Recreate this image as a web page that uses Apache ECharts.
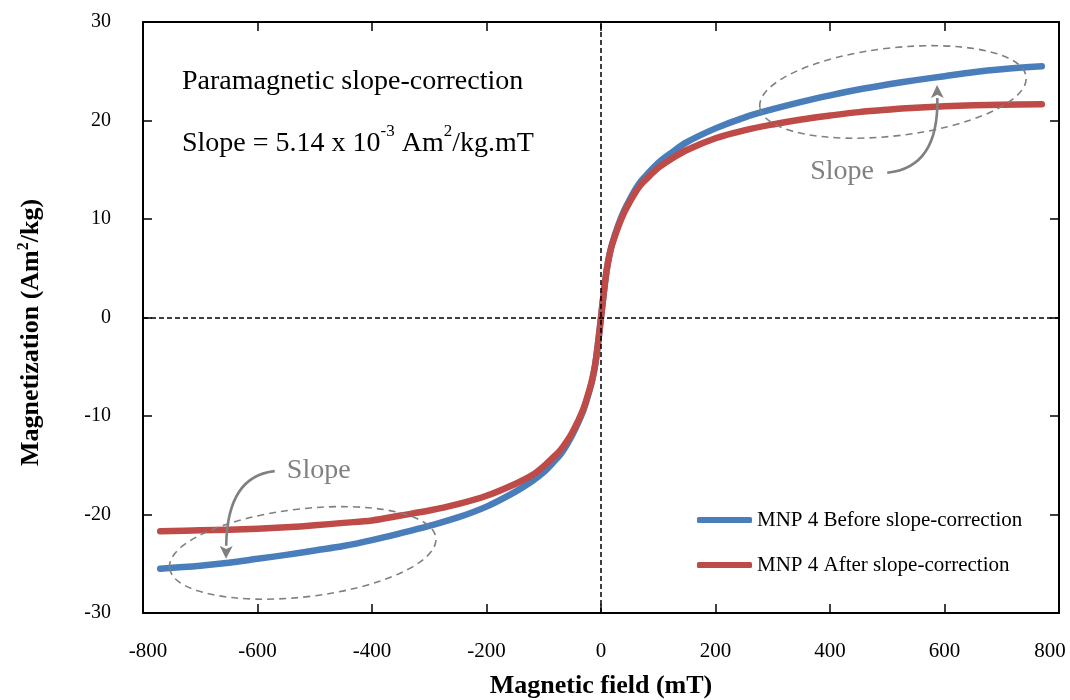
<!DOCTYPE html>
<html>
<head>
<meta charset="utf-8">
<script src="https://cdn.jsdelivr.net/npm/echarts@6/dist/echarts.min.js"></script>
<style>
  html, body { margin: 0; padding: 0; background: #fff; }
  #chart { width: 1070px; height: 700px; }
</style>
</head>
<body>
<div id="chart"></div>
<script>
// Applied magnetic field (mT)
const fieldValues = [-770, -700, -650, -600, -550, -500, -450, -400, -350, -300, -250, -200, -150, -120, -100, -80, -70, -60, -50, -40, -30, -20, -15, -10, -5, 0,
  5, 10, 15, 20, 30, 40, 50, 60, 70, 80, 100, 120, 150, 200, 250, 300, 350, 400, 450, 500, 550, 600, 650, 700, 770];

// Magnetization before paramagnetic slope correction (Am2/kg)
const beforeCorrection = [-25.5, -25.2, -24.9, -24.5, -24.1, -23.65, -23.2, -22.6, -21.9, -21.15, -20.3, -19.2, -17.7, -16.6, -15.7, -14.5, -13.85, -12.95, -11.9, -10.7, -9.3, -7.4, -6.3, -4.75, -2.55, 0,
  2.6, 4.85, 6.45, 7.6, 9.35, 10.8, 11.95, 13.0, 13.85, 14.5, 15.7, 16.6, 17.8, 19.2, 20.3, 21.15, 21.9, 22.55, 23.15, 23.65, 24.1, 24.5, 24.9, 25.2, 25.5];

// Magnetization after paramagnetic slope correction (Am2/kg)
const afterCorrection = [-21.7, -21.6, -21.55, -21.45, -21.3, -21.1, -20.85, -20.6, -20.1, -19.6, -18.95, -18.1, -16.9, -16.0, -15.1, -14.0, -13.4, -12.6, -11.65, -10.5, -9.15, -7.3, -6.2, -4.7, -2.5, 0,
  2.55, 4.8, 6.4, 7.5, 9.2, 10.6, 11.7, 12.7, 13.5, 14.1, 15.2, 16.0, 17.0, 18.2, 19.0, 19.6, 20.1, 20.5, 20.85, 21.1, 21.3, 21.45, 21.55, 21.6, 21.65];

const seriesNames = ['MNP 4 Before slope-correction', 'MNP 4 After slope-correction'];
const xTicks = { min: -800, max: 800, interval: 200 };
const yTicks = { min: -30, max: 30, interval: 10 };

const FONT = '"Liberation Serif", "Times New Roman", serif';
const GRAY = '#808080';

const chart = echarts.init(document.getElementById('chart'), null, { renderer: 'canvas' });

function pairs(xs, ys) {
  return xs.map((x, i) => [x, ys[i]]);
}

// end labels of the field axis sit slightly inside the frame
function fieldLabel(v) {
  if (v === xTicks.max) return '{hi|' + v + '}';
  if (v === xTicks.min) return '{lo|' + v + '}';
  return String(v);
}

const tickStyle = { show: true, inside: true, length: 9, lineStyle: { color: '#000', width: 1.5 } };
const axisLine = { show: true, onZero: false, lineStyle: { color: '#000', width: 2 } };

chart.setOption({
  animation: false,
  backgroundColor: '#fff',
  grid: { left: 143, right: 11, top: 22, bottom: 87, containLabel: false, outerBoundsMode: 'none' },
  xAxis: [
    {
      type: 'value', position: 'bottom', min: xTicks.min, max: xTicks.max, interval: xTicks.interval,
      axisLine, axisTick: tickStyle, splitLine: { show: false },
      axisLabel: {
        color: '#000', fontFamily: FONT, fontSize: 21, margin: 28, formatter: fieldLabel,
        rich: {
          hi: { color: '#000', fontFamily: FONT, fontSize: 21, padding: [0, 18, 0, 0] },
          lo: { color: '#000', fontFamily: FONT, fontSize: 21, padding: [0, 0, 0, 10] }
        }
      },
      name: 'Magnetic field (mT)', nameLocation: 'middle', nameGap: 60,
      nameTextStyle: { color: '#000', fontFamily: FONT, fontSize: 26, fontWeight: 'bold' }
    },
    {
      type: 'value', position: 'top', min: xTicks.min, max: xTicks.max, interval: xTicks.interval,
      axisLine, axisTick: tickStyle, splitLine: { show: false }, axisLabel: { show: false }
    }
  ],
  yAxis: [
    {
      type: 'value', position: 'left', min: yTicks.min, max: yTicks.max, interval: yTicks.interval,
      axisLine, axisTick: tickStyle, splitLine: { show: false },
      axisLabel: { color: '#000', fontFamily: FONT, fontSize: 20, margin: 32 },
      name: '{t|Magnetization (Am}{s|2}{t|/kg)}', nameLocation: 'middle', nameGap: 97, nameRotate: 90,
      nameTextStyle: {
        color: '#000', fontFamily: FONT, fontSize: 26, fontWeight: 'bold',
        padding: [0, 30, 0, 0],
        rich: {
          t: { fontFamily: FONT, fontSize: 26, fontWeight: 'bold', color: '#000', lineHeight: 30 },
          s: { fontFamily: FONT, fontSize: 16, fontWeight: 'bold', color: '#000', verticalAlign: 'top', lineHeight: 30 }
        }
      }
    },
    {
      type: 'value', position: 'right', min: yTicks.min, max: yTicks.max, interval: yTicks.interval,
      axisLine, axisTick: tickStyle, splitLine: { show: false }, axisLabel: { show: false }
    }
  ],
  legend: {
    data: seriesNames,
    orient: 'vertical',
    left: 697, top: 509, padding: 0,
    icon: 'roundRect',
    itemWidth: 55, itemHeight: 6, itemGap: 23,
    textStyle: { color: '#000', fontFamily: FONT, fontSize: 21, lineHeight: 22 },
    selectedMode: false
  },
  series: [
    {
      name: seriesNames[0], type: 'line', xAxisIndex: 0, yAxisIndex: 0,
      data: pairs(fieldValues, beforeCorrection),
      showSymbol: false, symbol: 'none', smooth: 0.35,
      lineStyle: { color: '#4A7EBB', width: 6.5, cap: 'round', join: 'round' },
      itemStyle: { color: '#4A7EBB' }, z: 2
    },
    {
      name: seriesNames[1], type: 'line', xAxisIndex: 0, yAxisIndex: 0,
      data: pairs(fieldValues, afterCorrection),
      showSymbol: false, symbol: 'none', smooth: 0.35,
      lineStyle: { color: '#BE4B48', width: 6.5, cap: 'round', join: 'round' },
      itemStyle: { color: '#BE4B48' }, z: 3
    },
    {
      // zero-field and zero-magnetization reference lines
      name: 'axes-zero', type: 'line', data: [], z: 6, silent: true,
      markLine: {
        silent: true, symbol: ['none', 'none'], animation: false,
        label: { show: false },
        lineStyle: { color: '#000', type: [5, 3], width: 1.5 },
        data: [{ xAxis: 0 }, { yAxis: 0 }]
      }
    }
  ]
});

// Annotation geometry, anchored in data units (field mT, magnetization Am2/kg)
const notes = {
  upperEllipse: [510, 22.9],
  lowerEllipse: [-521, -23.9],
  upperLabel: [421, 14.8],
  lowerLabel: [-493, -15.5],
  upperArrow: { from: [500, 14.7], ctrl: [590, 15.2], to: [587, 23.6] },
  lowerArrow: { from: [-570, -15.6], ctrl: [-653, -16.1], to: [-655, -24.5] },
  title: [-732, 23.9],
  slope: [-732, 18.0]
};

function px(p) { return chart.convertToPixel({ xAxisIndex: 0, yAxisIndex: 0 }, p); }

function ellipse(c) {
  const [x, y] = px(c);
  return {
    type: 'ellipse', x, y, rotation: 6.5 * Math.PI / 180, silent: true, z: 4,
    shape: { cx: 0, cy: 0, rx: 134, ry: 44 },
    style: { fill: 'none', stroke: GRAY, lineWidth: 1.6, lineDash: [7, 5] }
  };
}

function arrow(a) {
  const s = px(a.from), c = px(a.ctrl), t = px(a.to);
  const ang = Math.atan2(t[1] - c[1], t[0] - c[0]);
  const len = 13, half = 6.5;
  const bx = t[0] - len * Math.cos(ang), by = t[1] - len * Math.sin(ang);
  const nx = -Math.sin(ang), ny = Math.cos(ang);
  return [
    {
      type: 'bezierCurve', silent: true, z: 4,
      shape: { x1: s[0], y1: s[1], cpx1: c[0], cpy1: c[1], x2: bx, y2: by },
      style: { fill: 'none', stroke: GRAY, lineWidth: 2.6 }
    },
    {
      type: 'polygon', silent: true, z: 4,
      shape: { points: [t, [bx + nx * half, by + ny * half], [bx + len * 0.25 * Math.cos(ang), by + len * 0.25 * Math.sin(ang)], [bx - nx * half, by - ny * half]] },
      style: { fill: GRAY, stroke: 'none' }
    }
  ];
}

function label(p, text) {
  const [x, y] = px(p);
  return {
    type: 'text', x, y, silent: true, z: 4,
    style: { text, fill: GRAY, font: '28px ' + FONT, align: 'center', verticalAlign: 'middle' }
  };
}

const t1 = px(notes.title), t2 = px(notes.slope);
chart.setOption({
  graphic: [
    ellipse(notes.upperEllipse),
    ellipse(notes.lowerEllipse),
    ...arrow(notes.upperArrow),
    ...arrow(notes.lowerArrow),
    label(notes.upperLabel, 'Slope'),
    label(notes.lowerLabel, 'Slope'),
    {
      type: 'text', x: t1[0], y: t1[1], silent: true, z: 4,
      style: { text: 'Paramagnetic slope-correction', fill: '#000', font: '28px ' + FONT, align: 'left', verticalAlign: 'middle' }
    },
    {
      type: 'text', x: t2[0], y: t2[1], silent: true, z: 4,
      style: {
        text: '{n|Slope = 5.14 x 10}{s|-3}{n| Am}{s|2}{n|/kg.mT}',
        align: 'left', verticalAlign: 'middle',
        rich: {
          n: { fontFamily: FONT, fontSize: 28, fill: '#000', lineHeight: 34, verticalAlign: 'bottom' },
          s: { fontFamily: FONT, fontSize: 17, fill: '#000', lineHeight: 34, verticalAlign: 'top' }
        }
      }
    }
  ]
});
</script>
</body>
</html>
